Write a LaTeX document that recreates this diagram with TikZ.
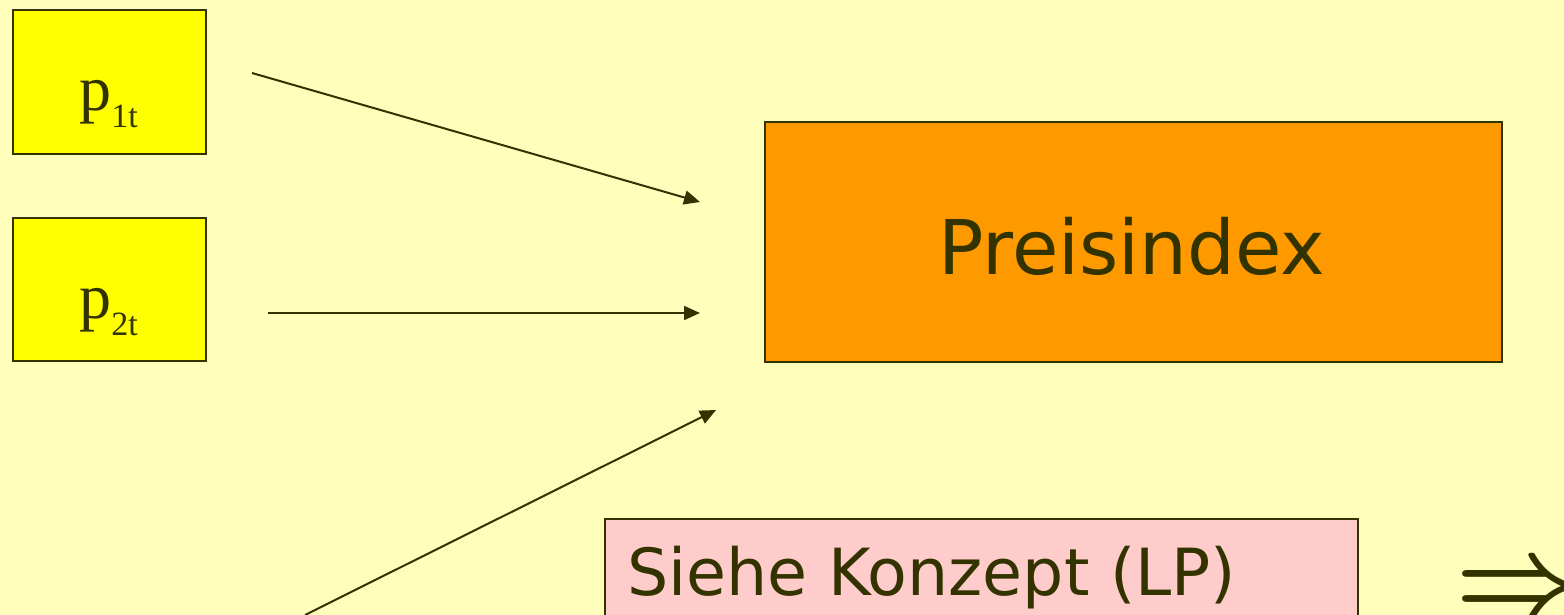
\documentclass[tikz,border=0pt]{standalone}
\usepackage{fontspec}
\setmainfont{Liberation Serif}
\newfontfamily\boxsans{DejaVu Sans}
\usetikzlibrary{arrows.meta}
\definecolor{bg}{HTML}{FFFFBB}
\definecolor{ink}{HTML}{333300}
\definecolor{yel}{HTML}{FFFF00}
\definecolor{org}{HTML}{FF9900}
\definecolor{pnk}{HTML}{FFCCCC}
\begin{document}
\begin{tikzpicture}[x=0.5pt,y=-0.5pt,
  box/.style={draw=ink,line width=1pt,inner sep=0pt,anchor=north west,text=ink},
  conn/.style={draw=ink,line width=1pt,-{Triangle[length=8pt,width=7pt]}}]
\useasboundingbox (0,0) rectangle (1564,615);
\clip (0,0) rectangle (1564,615);
\fill[bg] (0,0) rectangle (1564,615);
\node[box,fill=yel,minimum width=96.5pt,minimum height=72pt] (p1) at (12,9) {};
\node[text=ink,font=\fontsize{32}{32}\selectfont] (p1t) at (108.5,104) {p\raisebox{-8.5pt}{\fontsize{17}{17}\selectfont 1t}};
\node[box,fill=yel,minimum width=96.5pt,minimum height=71.5pt] (p2) at (12,217) {};
\node[text=ink,font=\fontsize{32}{32}\selectfont] (p2t) at (108.5,312) {p\raisebox{-8.5pt}{\fontsize{17}{17}\selectfont 2t}};
\node[box,fill=org,minimum width=368.5pt,minimum height=120pt] (pi) at (764,121) {};
\node[text=ink,font=\boxsans\fontsize{37.7}{40}\selectfont] (pit) at (1132,246) {Preisindex};
\node[box,fill=pnk,minimum width=376.5pt,minimum height=80pt] (sk) at (604,518) {};
\node[text=ink,font=\boxsans\fontsize{32.5}{34}\selectfont,anchor=west] (skt) at (620,578) {Siehe Konzept (LP)};
\node[text=ink,anchor=west,inner sep=0pt] (impl) at (1455,593) {\scalebox{5.6}{\boldmath$\Rightarrow$}};
\coordinate (a1s) at (252,73); \coordinate (a1e) at (700,202);
\coordinate (a2s) at (268,313); \coordinate (a2e) at (700,313);
\coordinate (a3s) at (305,615); \coordinate (a3e) at (716,410);
\draw[conn] (a1s) -- (a1e);
\draw[conn] (a2s) -- (a2e);
\draw[conn] (a3s) -- (a3e);
\end{tikzpicture}
\end{document}
